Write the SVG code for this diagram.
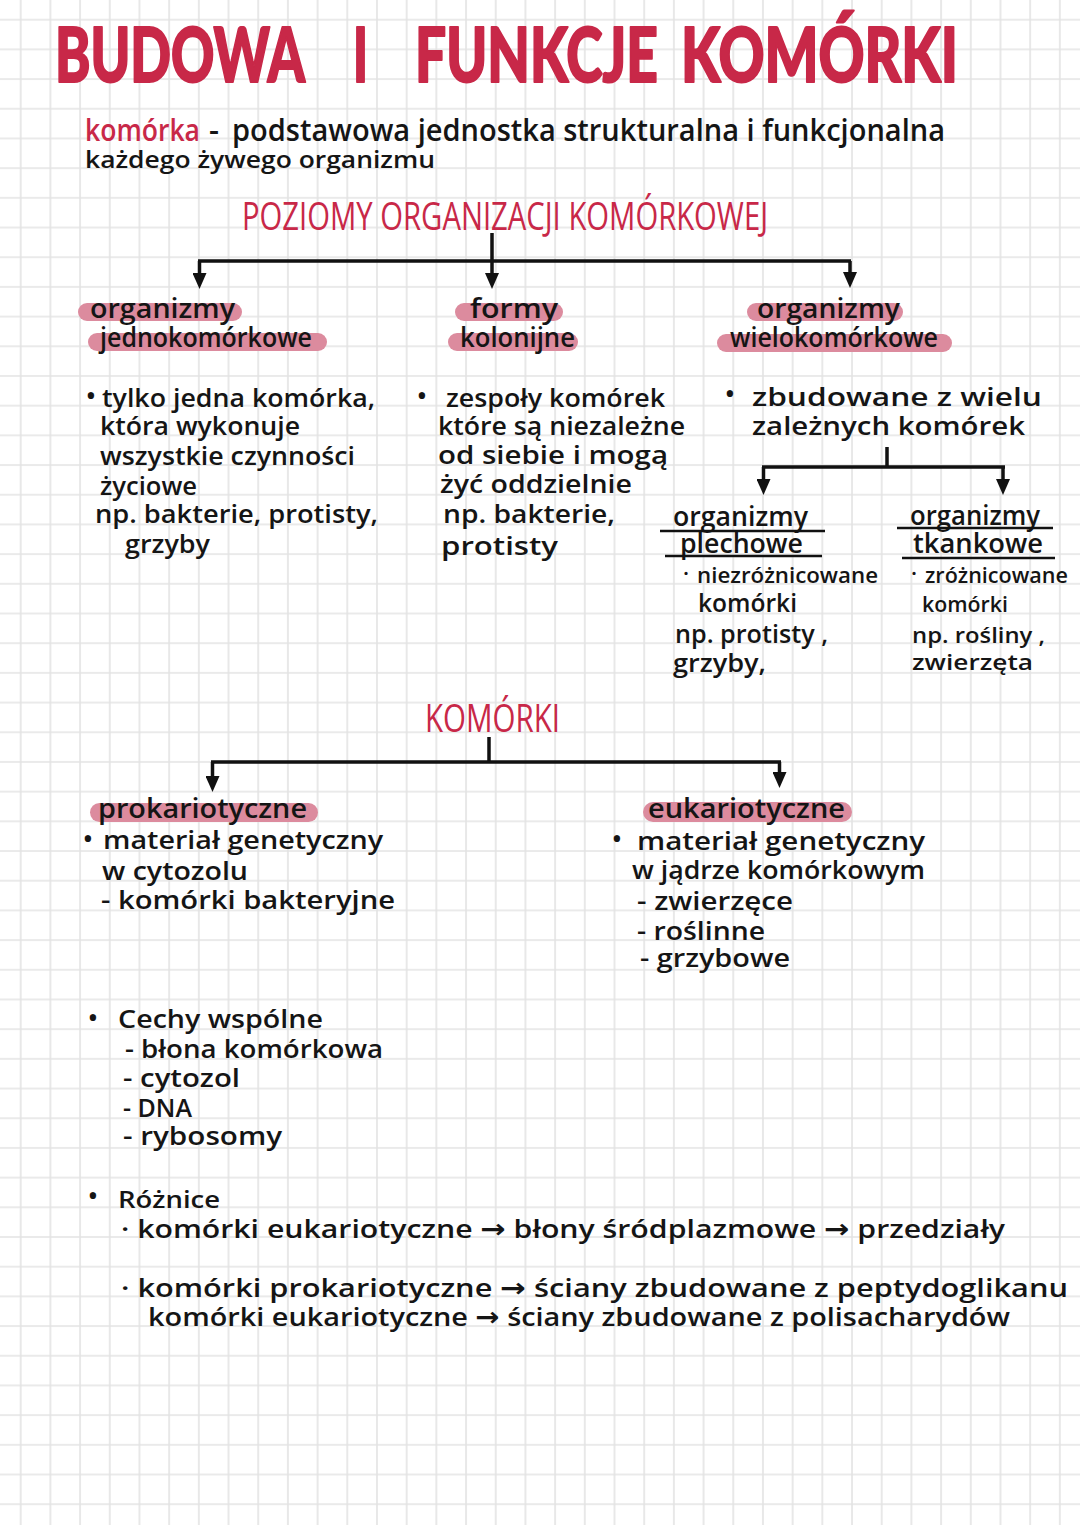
<svg xmlns="http://www.w3.org/2000/svg" width="1080" height="1525" viewBox="0 0 1080 1525">
<style>
.t{font-family:"Open Sans","Noto Sans","DejaVu Sans",sans-serif;font-weight:600;fill:#151515}
.b{font-size:26px}
.h{font-size:27px}
.s{font-size:22px}
.red{fill:#c82848}
.redthin{font-family:"Open Sans","Noto Sans",sans-serif;font-weight:400;fill:#c82848}
.title{font-family:"Lato","Open Sans",sans-serif;font-weight:900;font-size:76px;fill:#c82848;stroke:#c82848;stroke-width:2;stroke-linejoin:round}
.hl{fill:#dc8b9e}
.con{fill:none;stroke:#111;stroke-width:3.5;stroke-linecap:butt;stroke-linejoin:miter}
.ul{stroke:#111;stroke-width:2.5}
</style>
<defs>
<pattern id="grid" patternUnits="userSpaceOnUse" x="5.855" y="4.855" width="29.69" height="29.69">
<path d="M14.845 0V29.69M0 14.845H29.69" stroke="#e3e3e3" stroke-width="1.6" fill="none"/>
</pattern>
<marker id="arrow" viewBox="0 0 16 14" markerWidth="16" markerHeight="14" markerUnits="userSpaceOnUse" refX="4" refY="7" orient="auto">
<path d="M0 0L16 7L0 14Z" fill="#111"/>
</marker>
</defs>
<rect width="1080" height="1525" fill="#ffffff"/>
<rect width="1080" height="1525" fill="url(#grid)"/>

<g id="title">
<text class="title" x="55" y="82" textLength="250" lengthAdjust="spacingAndGlyphs">BUDOWA</text>
<text class="title" x="353" y="82" textLength="15" lengthAdjust="spacingAndGlyphs">I</text>
<text class="title" x="415" y="82" textLength="243" lengthAdjust="spacingAndGlyphs">FUNKCJE</text>
<text class="title" x="681" y="82" textLength="277" lengthAdjust="spacingAndGlyphs">KOMÓRKI</text>
</g>

<g id="definition">
<text class="t red" x="85" y="141" font-size="31" font-weight="500" textLength="115" lengthAdjust="spacingAndGlyphs">komórka</text>
<text class="t" x="209" y="141" font-size="31">-</text>
<text class="t" x="232" y="141" font-size="31" textLength="713" lengthAdjust="spacingAndGlyphs">podstawowa jednostka strukturalna i funkcjonalna</text>
<text class="t" x="85" y="168" font-size="24" textLength="350" lengthAdjust="spacingAndGlyphs">każdego żywego organizmu</text>
</g>

<g id="heading-poziomy">
<text class="redthin" x="242" y="230" font-size="38" textLength="526" lengthAdjust="spacingAndGlyphs">POZIOMY ORGANIZACJI KOMÓRKOWEJ</text>
</g>

<g id="node-jednokomorkowe">
<rect class="hl" x="78" y="303" width="164" height="18" rx="9"/>
<rect class="hl" x="88" y="333" width="239" height="18" rx="9"/>
<text class="t h" x="90" y="318" textLength="145" lengthAdjust="spacingAndGlyphs">organizmy</text>
<text class="t h" x="100" y="347" textLength="212" lengthAdjust="spacingAndGlyphs">jednokomórkowe</text>
<text class="t b" x="86" y="405">•</text>
<text class="t b" x="102" y="407" textLength="273" lengthAdjust="spacingAndGlyphs">tylko jedna komórka,</text>
<text class="t b" x="100" y="435" textLength="200" lengthAdjust="spacingAndGlyphs">która wykonuje</text>
<text class="t b" x="100" y="465" textLength="255" lengthAdjust="spacingAndGlyphs">wszystkie czynności</text>
<text class="t b" x="100" y="495" textLength="97" lengthAdjust="spacingAndGlyphs">życiowe</text>
<text class="t b" x="95" y="523" textLength="283" lengthAdjust="spacingAndGlyphs">np. bakterie, protisty,</text>
<text class="t b" x="125" y="553" textLength="85" lengthAdjust="spacingAndGlyphs">grzyby</text>
</g>

<g id="node-kolonijne">
<rect class="hl" x="455" y="303" width="108" height="18" rx="9"/>
<rect class="hl" x="448" y="333" width="130" height="18" rx="9"/>
<text class="t h" x="470" y="318" textLength="88" lengthAdjust="spacingAndGlyphs">formy</text>
<text class="t h" x="460" y="347" textLength="115" lengthAdjust="spacingAndGlyphs">kolonijne</text>
<text class="t b" x="417" y="405">•</text>
<text class="t b" x="446" y="407" textLength="219" lengthAdjust="spacingAndGlyphs">zespoły komórek</text>
<text class="t b" x="438" y="435" textLength="247" lengthAdjust="spacingAndGlyphs">które są niezależne</text>
<text class="t b" x="438" y="464" textLength="230" lengthAdjust="spacingAndGlyphs">od siebie i mogą</text>
<text class="t b" x="440" y="493" textLength="192" lengthAdjust="spacingAndGlyphs">żyć oddzielnie</text>
<text class="t b" x="443" y="523" textLength="172" lengthAdjust="spacingAndGlyphs">np. bakterie,</text>
<text class="t b" x="441" y="555" textLength="117" lengthAdjust="spacingAndGlyphs">protisty</text>
</g>

<g id="node-wielokomorkowe">
<rect class="hl" x="747" y="303" width="156" height="18" rx="9"/>
<rect class="hl" x="717" y="334" width="235" height="18" rx="9"/>
<text class="t h" x="757" y="318" textLength="143" lengthAdjust="spacingAndGlyphs">organizmy</text>
<text class="t h" x="730" y="347" textLength="208" lengthAdjust="spacingAndGlyphs">wielokomórkowe</text>
<text class="t b" x="725" y="403">•</text>
<text class="t b" x="752" y="406" textLength="290" lengthAdjust="spacingAndGlyphs">zbudowane  z wielu</text>
<text class="t b" x="752" y="435" textLength="273" lengthAdjust="spacingAndGlyphs">zależnych komórek</text>
</g>

<g id="node-plechowe">
<text class="t h" x="673" y="526" textLength="135" lengthAdjust="spacingAndGlyphs">organizmy</text>
<line class="ul" x1="660" y1="531" x2="825" y2="531"/>
<text class="t h" x="680" y="553" textLength="123" lengthAdjust="spacingAndGlyphs">plechowe</text>
<line class="ul" x1="665" y1="556" x2="822" y2="556"/>
<text class="t s" x="683" y="581">·</text>
<text class="t s" x="697" y="583" textLength="181" lengthAdjust="spacingAndGlyphs">niezróżnicowane</text>
<text class="t b" x="698" y="612" textLength="99" lengthAdjust="spacingAndGlyphs">komórki</text>
<text class="t b" x="675" y="643" textLength="153" lengthAdjust="spacingAndGlyphs">np. protisty ,</text>
<text class="t b" x="673" y="672" textLength="93" lengthAdjust="spacingAndGlyphs">grzyby,</text>
</g>

<g id="node-tkankowe">
<text class="t h" x="910" y="525" textLength="130" lengthAdjust="spacingAndGlyphs">organizmy</text>
<line class="ul" x1="897" y1="528" x2="1053" y2="528"/>
<text class="t h" x="913" y="553" textLength="130" lengthAdjust="spacingAndGlyphs">tkankowe</text>
<line class="ul" x1="902" y1="558" x2="1055" y2="558"/>
<text class="t s" x="911" y="581">·</text>
<text class="t s" x="925" y="583" textLength="143" lengthAdjust="spacingAndGlyphs">zróżnicowane</text>
<text class="t s" x="922" y="612" textLength="86" lengthAdjust="spacingAndGlyphs">komórki</text>
<text class="t s" x="912" y="643" textLength="133" lengthAdjust="spacingAndGlyphs">np. rośliny ,</text>
<text class="t s" x="912" y="670" textLength="121" lengthAdjust="spacingAndGlyphs">zwierzęta</text>
</g>

<g id="heading-komorki">
<text class="redthin" x="425" y="732" font-size="38" textLength="135" lengthAdjust="spacingAndGlyphs">KOMÓRKI</text>
</g>

<g id="node-prokariotyczne">
<rect class="hl" x="90" y="803" width="228" height="19" rx="9.5"/>
<text class="t h" x="98" y="818" textLength="209" lengthAdjust="spacingAndGlyphs">prokariotyczne</text>
<text class="t b" x="83" y="848">•</text>
<text class="t b" x="103" y="849" textLength="280" lengthAdjust="spacingAndGlyphs">materiał genetyczny</text>
<text class="t b" x="102" y="880" textLength="146" lengthAdjust="spacingAndGlyphs">w cytozolu</text>
<text class="t b" x="101" y="909" textLength="294" lengthAdjust="spacingAndGlyphs">- komórki bakteryjne</text>
</g>

<g id="node-eukariotyczne">
<rect class="hl" x="643" y="802" width="209" height="20" rx="10"/>
<text class="t h" x="648" y="818" textLength="197" lengthAdjust="spacingAndGlyphs">eukariotyczne</text>
<text class="t b" x="612" y="848">•</text>
<text class="t b" x="637" y="850" textLength="288" lengthAdjust="spacingAndGlyphs">materiał genetyczny</text>
<text class="t b" x="632" y="879" textLength="293" lengthAdjust="spacingAndGlyphs">w jądrze komórkowym</text>
<text class="t b" x="637" y="910" textLength="156" lengthAdjust="spacingAndGlyphs">-  zwierzęce</text>
<text class="t b" x="637" y="940" textLength="128" lengthAdjust="spacingAndGlyphs">- roślinne</text>
<text class="t b" x="640" y="967" textLength="150" lengthAdjust="spacingAndGlyphs">- grzybowe</text>
</g>

<g id="cechy-wspolne">
<text class="t b" x="88" y="1027">•</text>
<text class="t b" x="118" y="1028" textLength="205" lengthAdjust="spacingAndGlyphs">Cechy  wspólne</text>
<text class="t b" x="125" y="1058" textLength="258" lengthAdjust="spacingAndGlyphs">- błona komórkowa</text>
<text class="t b" x="123" y="1087" textLength="117" lengthAdjust="spacingAndGlyphs">- cytozol</text>
<text class="t b" x="123" y="1117" textLength="69" lengthAdjust="spacingAndGlyphs">- DNA</text>
<text class="t b" x="123" y="1145" textLength="159" lengthAdjust="spacingAndGlyphs">- rybosomy</text>
</g>

<g id="roznice">
<text class="t b" x="88" y="1205">•</text>
<text class="t" x="118" y="1208" font-size="24" textLength="102" lengthAdjust="spacingAndGlyphs">Różnice</text>
<text class="t b" x="121" y="1238" textLength="884" lengthAdjust="spacingAndGlyphs">· komórki eukariotyczne → błony śródplazmowe → przedziały</text>
<text class="t b" x="121" y="1297" textLength="947" lengthAdjust="spacingAndGlyphs">· komórki prokariotyczne → ściany zbudowane z peptydoglikanu</text>
<text class="t b" x="148" y="1326" textLength="862" lengthAdjust="spacingAndGlyphs">komórki eukariotyczne → ściany zbudowane z polisacharydów</text>
</g>

<g id="connectors">
<path class="con" d="M492 233V261M198 261H851"/>
<path class="con" d="M199.5 261V277" marker-end="url(#arrow)"/>
<path class="con" d="M492 261V277" marker-end="url(#arrow)"/>
<path class="con" d="M850 261V276" marker-end="url(#arrow)"/>
<path class="con" d="M887 447V467M762 467H1005"/>
<path class="con" d="M763.5 467V483" marker-end="url(#arrow)"/>
<path class="con" d="M1003 467V483" marker-end="url(#arrow)"/>
<path class="con" d="M489 737V762M211 762H781"/>
<path class="con" d="M212.5 762V780" marker-end="url(#arrow)"/>
<path class="con" d="M779.5 762V776" marker-end="url(#arrow)"/>
</g>
</svg>
